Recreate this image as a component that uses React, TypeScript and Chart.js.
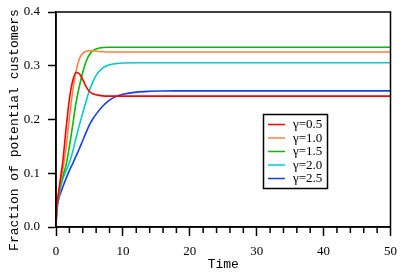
import { useEffect, useRef } from "react";
import { Chart, registerables } from "chart.js";

Chart.register(...registerables);

const times = [0, 0.1, 0.25, 0.5, 0.75, 1, 1.5, 2, 2.5, 3, 3.5, 4, 4.5, 5, 5.5, 6, 7, 8, 9, 10, 12, 14, 16, 18, 20, 25, 30, 40, 50];

const gamma05 = [0, 0.035, 0.052, 0.075, 0.098, 0.12, 0.182, 0.238, 0.272, 0.2875, 0.285, 0.274, 0.261, 0.252, 0.248, 0.246, 0.244, 0.2435, 0.2435, 0.2435, 0.2435, 0.2435, 0.2435, 0.2435, 0.2435, 0.2435, 0.2435, 0.2435, 0.2435];
const gamma10 = [0, 0.034, 0.05, 0.07, 0.09, 0.105, 0.147, 0.203, 0.253, 0.29, 0.313, 0.323, 0.327, 0.328, 0.328, 0.327, 0.326, 0.3255, 0.3255, 0.3255, 0.3255, 0.3255, 0.3255, 0.3255, 0.3255, 0.3255, 0.3255, 0.3255, 0.3255];
const gamma15 = [0, 0.033, 0.048, 0.066, 0.082, 0.095, 0.115, 0.15, 0.19, 0.232, 0.262, 0.288, 0.308, 0.321, 0.328, 0.331, 0.334, 0.3345, 0.3345, 0.3345, 0.3345, 0.3345, 0.3345, 0.3345, 0.3345, 0.3345, 0.3345, 0.3345, 0.3345];
const gamma20 = [0, 0.032, 0.046, 0.062, 0.077, 0.089, 0.104, 0.12, 0.14, 0.166, 0.19, 0.212, 0.234, 0.254, 0.27, 0.282, 0.296, 0.302, 0.304, 0.305, 0.3055, 0.3055, 0.3055, 0.3055, 0.3055, 0.3055, 0.3055, 0.3055, 0.3055];
const gamma25 = [0, 0.025, 0.042, 0.056, 0.065, 0.074, 0.09, 0.105, 0.118, 0.132, 0.146, 0.161, 0.176, 0.19, 0.201, 0.21, 0.225, 0.236, 0.243, 0.247, 0.251, 0.2525, 0.253, 0.2532, 0.2532, 0.2532, 0.2532, 0.2532, 0.2532];

const seriesLabels = ["γ=0.5", "γ=1.0", "γ=1.5", "γ=2.0", "γ=2.5"];
const seriesValues = [gamma05, gamma10, gamma15, gamma20, gamma25];
const seriesColors = ["rgb(255,0,0)", "rgb(255,128,64)", "rgb(0,190,0)", "rgb(0,204,204)", "rgb(20,60,255)"];

const xTitle = "Time";
const yTitle = "Fraction of potential customers";

const MONO = '"Liberation Mono", monospace';
const SERIF = '"Liberation Serif", serif';

const decorPlugin = {
  id: "decor",
  afterDraw(chart: any) {
    const ctx = chart.ctx;
    const { left, right, top, bottom } = chart.chartArea;
    ctx.save();
    // frame
    ctx.strokeStyle = "#000";
    ctx.lineWidth = 1.5;
    ctx.strokeRect(left, top, right - left, bottom - top);
    // minor x ticks
    const xs = chart.scales.x;
    ctx.lineWidth = 1.5;
    for (let v = 0; v <= 50; v += 2) {
      if (v % 10 === 0) continue;
      const px = xs.getPixelForValue(v);
      ctx.beginPath();
      ctx.moveTo(px, bottom);
      ctx.lineTo(px, bottom + 6);
      ctx.stroke();
    }
    // y title
    ctx.fillStyle = "#000";
    ctx.font = "13px " + MONO;
    ctx.textAlign = "center";
    ctx.textBaseline = "middle";
    ctx.translate(15, 130);
    ctx.rotate(-Math.PI / 2);
    ctx.fillText(yTitle, 0, 0);
    ctx.restore();

    // legend
    ctx.save();
    const bx = 263.5, by = 114.5, bw = 64, bh = 74;
    ctx.fillStyle = "#fff";
    ctx.fillRect(bx, by, bw, bh);
    ctx.strokeStyle = "#000";
    ctx.lineWidth = 1.5;
    ctx.strokeRect(bx, by, bw, bh);
    ctx.font = "13px " + SERIF;
    ctx.textAlign = "left";
    ctx.textBaseline = "middle";
    chart.data.datasets.forEach((ds: any, i: number) => {
      const y = 124.5 + i * 13.5;
      ctx.strokeStyle = ds.borderColor;
      ctx.lineWidth = 1.5;
      ctx.beginPath();
      ctx.moveTo(268, y);
      ctx.lineTo(285, y);
      ctx.stroke();
      ctx.fillStyle = "#000";
      ctx.fillText(ds.label, 293, y + 0.5);
    });
    ctx.restore();
  },
};

export default function App() {
  const ref = useRef<HTMLCanvasElement | null>(null);
  useEffect(() => {
    document.body.style.margin = "0";
    if (!ref.current) return;
    const chart = new Chart(ref.current, {
      type: "line",
      data: {
        datasets: seriesValues.map((vals, i) => ({
          label: seriesLabels[i],
          data: times.map((t, j) => ({ x: t, y: vals[j] })),
          borderColor: seriesColors[i],
          backgroundColor: seriesColors[i],
          borderWidth: 1.6,
          pointRadius: 0,
          cubicInterpolationMode: "monotone" as const,
          fill: false,
        })),
      },
      options: {
        responsive: false,
        animation: false,
        devicePixelRatio: 1,
        layout: { padding: { left: 0, top: 12, right: 24.5, bottom: 0 } },
        plugins: { legend: { display: false }, tooltip: { enabled: false } },
        scales: {
          x: {
            type: "linear",
            min: 0,
            max: 50,
            afterFit: (s: any) => { s.height = 46; },
            ticks: { stepSize: 10, color: "#000", font: { family: SERIF, size: 13 }, padding: 8, maxRotation: 0 },
            grid: { drawOnChartArea: false, drawTicks: true, tickLength: 9, tickWidth: 1.5, color: "#000" },
            border: { display: true, color: "#000", width: 1.5 },
            title: { display: true, text: xTitle, color: "#000", font: { family: MONO, size: 13 }, padding: { top: 0, bottom: 1 } },
          },
          y: {
            type: "linear",
            min: 0,
            max: 0.4,
            afterFit: (s: any) => { s.width = 56; },
            ticks: { stepSize: 0.1, color: "#000", font: { family: SERIF, size: 13, lineHeight: 0.6 }, padding: 8, callback: (v: any) => Number(v).toFixed(1) },
            grid: { drawOnChartArea: false, drawTicks: true, tickLength: 8, tickWidth: 1.5, color: "#000" },
            border: { display: true, color: "#000", width: 1.5 },
          },
        },
      },
      plugins: [decorPlugin],
    });
    return () => chart.destroy();
  }, []);
  return (
    <div style={{ position: "absolute", left: 0, top: 0, width: 415, height: 273, background: "#fff" }}>
      <canvas ref={ref} width={415} height={273} />
    </div>
  );
}
